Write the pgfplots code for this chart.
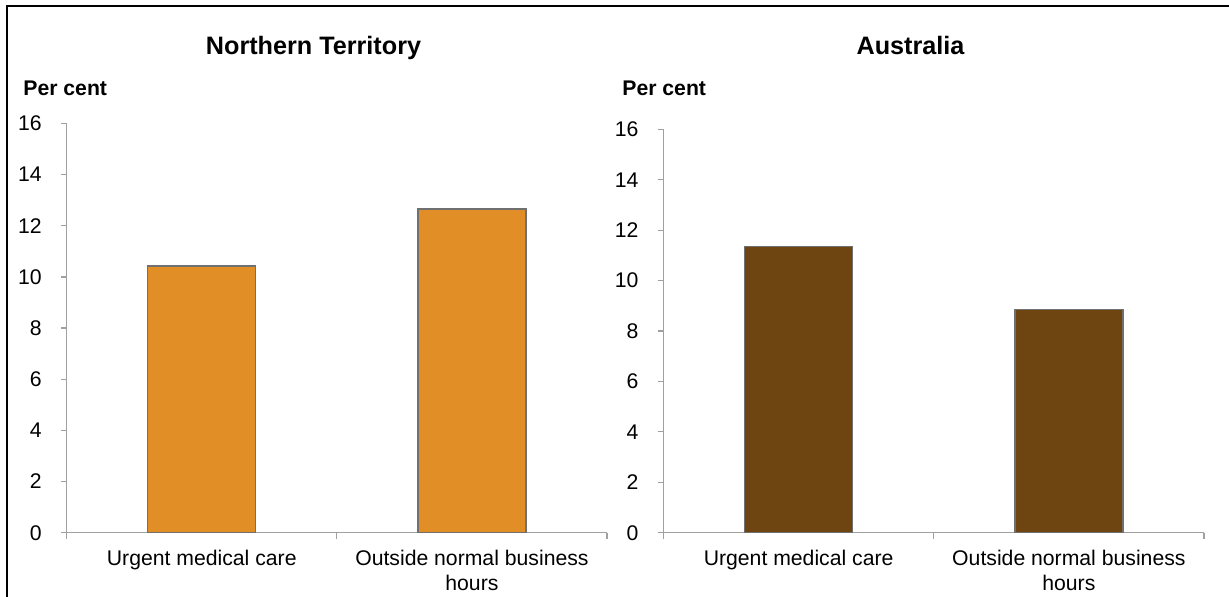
\documentclass[border=0pt]{standalone}
\usepackage{fontspec}
\setmainfont{Liberation Sans}
\usepackage{pgfplots}
\pgfplotsset{compat=1.18}
\definecolor{ntorange}{RGB}{225,142,38}
\definecolor{ausbrown}{RGB}{110,69,17}
\definecolor{axisgray}{RGB}{160,160,160}
\definecolor{edgegray}{RGB}{112,112,112}

\pgfplotsset{
  panel/.style={
    scale only axis,
    axis lines=left,
    axis line style={-, draw=axisgray, line width=0.6pt},
    xmin=-0.5, xmax=1.5, ymin=0, ymax=16,
    ytick={0,2,...,16},
    xtick={-0.5,0.5,1.5},
    x tick label as interval,
    xticklabels={{Urgent medical care},{Outside normal business\\hours}},
    tick align=outside,
    major tick length=3pt,
    tick style={draw=axisgray, line width=0.6pt},
    /pgf/number format/assume math mode=true,
    tick label style={font=\fontsize{10.6}{12.8}\selectfont, text=black},
    yticklabel style={xshift=-6pt},
    xticklabel style={align=center, yshift=-2.1pt},
    ybar, bar width=54pt,
    clip=false,
  }
}

\begin{document}
\begin{tikzpicture}
\useasboundingbox (0,0) rectangle (614.5pt,-298pt);
\draw[line width=1.2pt] (3.6pt,-300pt) -- (3.6pt,-2.9pt) -- (616pt,-2.9pt);

\node[anchor=base, inner sep=0, font=\fontsize{12.6}{15}\selectfont\bfseries] at (156.75pt,-27pt) {Northern Territory};
\node[anchor=base, inner sep=0, font=\fontsize{12.6}{15}\selectfont\bfseries] at (455.25pt,-27pt) {Australia};
\node[anchor=base west, inner sep=0, font=\fontsize{10.6}{12}\selectfont\bfseries] at (11.5pt,-47.5pt) {Per cent};
\node[anchor=base west, inner sep=0, font=\fontsize{10.6}{12}\selectfont\bfseries] at (311pt,-47.5pt) {Per cent};

\begin{axis}[panel, anchor=south west, at={(33.35pt,-266.35pt)}, width=270.15pt, height=204.65pt]
\addplot[fill=ntorange, draw=edgegray, line width=0.7pt] coordinates {(0,10.43) (1,12.66)};
\end{axis}

\begin{axis}[panel, anchor=south west, at={(331.75pt,-266.35pt)}, width=270.25pt, height=201.7pt]
\addplot[fill=ausbrown, draw=edgegray, line width=0.7pt] coordinates {(0,11.35) (1,8.85)};
\end{axis}
\end{tikzpicture}
\end{document}
